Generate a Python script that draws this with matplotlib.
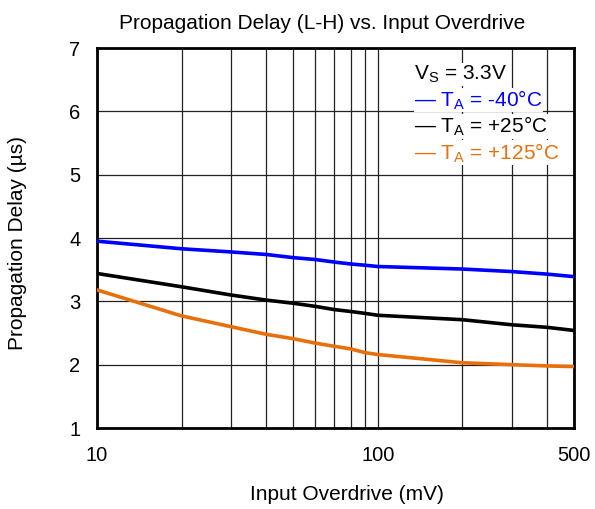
import numpy as np
import matplotlib
matplotlib.use("Agg")
import matplotlib.pyplot as plt
from matplotlib.ticker import FixedLocator, FixedFormatter, NullFormatter

plt.rcParams['font.family'] = ['Liberation Sans', 'DejaVu Sans']
plt.rcParams['mathtext.fontset'] = 'custom'
plt.rcParams['mathtext.rm'] = 'Liberation Sans'

overdrive = [10, 20, 30, 40, 50, 60, 70, 80, 90, 100, 200, 300, 400, 500]
delay_m40 = [3.95, 3.83, 3.78, 3.74, 3.69, 3.66, 3.62, 3.59, 3.57, 3.55, 3.51, 3.47, 3.43, 3.39]
delay_25 = [3.44, 3.23, 3.10, 3.02, 2.97, 2.92, 2.87, 2.84, 2.81, 2.78, 2.71, 2.63, 2.59, 2.54]
delay_125 = [3.18, 2.77, 2.60, 2.48, 2.41, 2.34, 2.29, 2.25, 2.19, 2.16, 2.03, 2.00, 1.98, 1.97]

blue = '#0000FF'
black = '#000000'
orange = '#E8700A'

fig = plt.figure(figsize=(5.95, 5.09), dpi=100)
ax = fig.add_axes([97 / 595, 1 - 428 / 509, (574 - 97) / 595, (428 - 48) / 509])

ax.plot(overdrive, delay_m40, color=blue, lw=2.6, zorder=3)
ax.plot(overdrive, delay_25, color=black, lw=2.6, zorder=3)
ax.plot(overdrive, delay_125, color=orange, lw=2.6, zorder=3)

ax.set_xscale('log')
ax.set_xlim(10, 500)
ax.set_ylim(1, 7)
ax.xaxis.set_major_locator(FixedLocator([10, 100, 500]))
ax.xaxis.set_major_formatter(FixedFormatter(['10', '100', '500']))
ax.xaxis.set_minor_locator(FixedLocator([20, 30, 40, 50, 60, 70, 80, 90, 200, 300, 400]))
ax.xaxis.set_minor_formatter(NullFormatter())
ax.set_yticks([1, 2, 3, 4, 5, 6, 7])

ax.grid(True, which='both', color='#222222', lw=0.9)
ax.tick_params(which='both', length=0, labelsize=14.5, pad=12)
ax.tick_params(axis='x', pad=13)
for s in ax.spines.values():
    s.set_linewidth(2)

ax.set_title('Propagation Delay (L-H) vs. Input Overdrive', fontsize=15, pad=14, x=0.473)
ax.set_xlabel('Input Overdrive (mV)', fontsize=15)
ax.set_ylabel('Propagation Delay (µs)', fontsize=15)
ax.xaxis.set_label_coords(0.524, -0.15)
ax.yaxis.set_label_coords(-0.146, 0.487)

lx = 0.665
ys = [0.93, 0.863, 0.793, 0.724]
labels = [r'V$_\mathregular{S}$ = 3.3V', r'— T$_\mathregular{A}$ = -40°C',
          r'— T$_\mathregular{A}$ = +25°C', r'— T$_\mathregular{A}$ = +125°C']
colors = [black, blue, black, orange]
for y, lab, c in zip(ys, labels, colors):
    ax.text(lx, y, lab, transform=ax.transAxes, fontsize=15, color=c,
            va='center', ha='left', zorder=4,
            bbox=dict(facecolor='white', edgecolor='none', pad=0.5))

fig.savefig('out.png', dpi=100)
